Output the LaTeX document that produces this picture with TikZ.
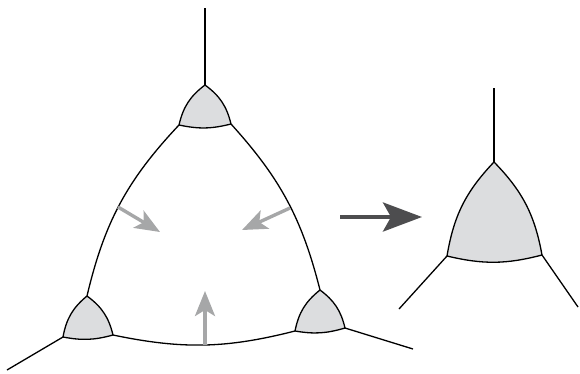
\documentclass[tikz,border=0pt]{standalone}
\usetikzlibrary{arrows.meta}
\definecolor{cellgray}{HTML}{DCDDDF}
\definecolor{pushgray}{HTML}{A6A7A8}
\definecolor{stepgray}{HTML}{4D4D4F}
\begin{document}
\begin{tikzpicture}[
    x=1pt, y=1pt,
    edge/.style={draw, line width=1.3pt, line join=round},
    cell/.style={edge, fill=cellgray},
    push/.style={draw=pushgray, line width=3.4pt, -{Stealth[length=25pt, width=20pt, inset=6pt]}},
    merge/.style={draw=stepgray, line width=4.2pt, -{Stealth[length=39pt, width=29pt, inset=8pt]}}
]
\useasboundingbox (0,0) rectangle (580,-373);
% corners of the three small vertices
\coordinate (ta) at (205,-85);  \coordinate (tl) at (179,-125); \coordinate (tr) at (231,-124);
\coordinate (la) at (87,-296);  \coordinate (ll) at (63,-337);  \coordinate (lr) at (113,-335);
\coordinate (ra) at (320,-290); \coordinate (rl) at (295,-331); \coordinate (rr) at (345,-328);
% corners of the merged vertex
\coordinate (ma) at (494,-162); \coordinate (ml) at (447,-256); \coordinate (mr) at (542,-255);
% free ends of the legs
\coordinate (tend) at (205,-8);   \coordinate (lend) at (7,-370);  \coordinate (rend) at (413,-349);
\coordinate (mtop) at (494,-88);  \coordinate (mleft) at (399,-309); \coordinate (mright) at (578,-307);

% big triangle
\draw[edge] (tl) to[bend right=15] (la);
\draw[edge] (lr) to[bend right=13] (rl);
\draw[edge] (ra) to[bend right=14] (tr);

% small vertices
\draw[cell] (ta) to[bend right=20] (tl) to[bend right=13] (tr) to[bend right=20] cycle;
\draw[cell] (la) to[bend right=20] (ll) to[bend right=13] (lr) to[bend right=20] cycle;
\draw[cell] (ra) to[bend right=20] (rl) to[bend right=13] (rr) to[bend right=20] cycle;

% legs
\draw[edge] (ta) -- (tend);
\draw[edge] (ll) -- (lend);
\draw[edge] (rr) -- (rend);

% shrinking arrows
\coordinate (p1) at (118,-207); \coordinate (q1) at (160,-232);
\coordinate (p2) at (290,-208); \coordinate (q2) at (242,-230);
\coordinate (p3) at (205,-345); \coordinate (q3) at (205,-291);
\draw[push] (p1) -- (q1);
\draw[push] (p2) -- (q2);
\draw[push] (p3) -- (q3);

% merge step
\coordinate (s1) at (340,-217); \coordinate (s2) at (422,-217);
\draw[merge] (s1) -- (s2);

% merged vertex
\draw[cell] (ma) to[bend right=17] (ml) to[bend right=14] (mr) to[bend right=17] cycle;
\draw[edge] (ma) -- (mtop);
\draw[edge] (ml) -- (mleft);
\draw[edge] (mr) -- (mright);
\end{tikzpicture}
\end{document}
